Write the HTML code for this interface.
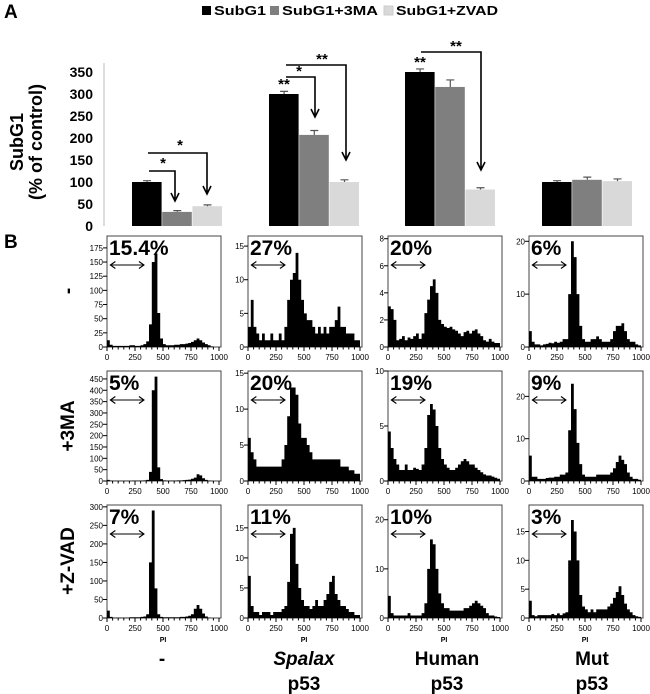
<!DOCTYPE html>
<html><head><meta charset="utf-8"><style>
html,body{margin:0;padding:0;background:#fff;}
svg{display:block;font-family:"Liberation Sans Narrow","Liberation Sans",sans-serif;}
</style></head><body>
<svg id="fig" width="650" height="694" viewBox="0 0 650 694" xmlns="http://www.w3.org/2000/svg">
<text x="4" y="18" font-size="19" font-weight="bold" font-family="Liberation Sans, sans-serif">A</text>
<text x="4" y="248" font-size="19" font-weight="bold" font-family="Liberation Sans, sans-serif">B</text>
<g id="legend"></g>
<g id="chartA"></g>
<g id="chartB"></g>
</svg>
<script>
// ---------- Panel A data ----------
const groups = ["ctrl", "spalax", "human", "mut"];
const seriesNames = ["SubG1", "SubG1+3MA", "SubG1+ZVAD"];
const subG1 = [100, 300, 350, 100];
const subG1_3MA = [32, 207, 316, 105];
const subG1_ZVAD = [45, 100, 83, 102];
const err_subG1 = [3, 6, 7, 3];
const err_3MA = [3, 10, 16, 6];
const err_ZVAD = [3, 5, 4, 5];
const yTicksA = [0, 50, 100, 150, 200, 250, 300, 350];

// ---------- Panel B data (counts per 25-unit PI bin, 0..1000) ----------
const pctLabels = [["15.4%","27%","20%","6%"],["5%","20%","19%","9%"],["7%","11%","10%","3%"]];
const yTopB = [[196,16.5,8.2,21],[485,15.3,10,26],[305,18.8,23,19.6]];
const yTicksB = [
 [[0,25,50,75,100,125,150,175],[0,5,10,15],[0,2,4,6,8],[0,10,20]],
 [[0,50,100,150,200,250,300,350,400,450],[0,5,10,15],[0,5,10],[0,10,20]],
 [[0,50,100,150,200,250,300],[0,5,10,15],[0,10,20],[0,5,10,15]]
];
const xTicksB = [0, 250, 500, 750, 1000];
const h_r1c1 = [12,4,2,2,2,2,2,2,3,3,2,2,3,5,10,40,150,165,60,15,5,3,3,3,4,4,5,5,6,7,9,12,15,12,8,5,3,1,0,0];
const h_r1c2 = [3,7,3,2,1,2,1,1,2,1,1,2,1,3,7,10,11,14,10,7,5,4,4,3,2,3,2,3,2,3,3,4,6,3,3,2,2,2,1,1];
const h_r1c3 = [3,2.8,2,0.5,0.6,0.8,0.5,0.7,0.6,0.8,1,0.6,1,2.5,3.5,4.5,5,4,2,1.7,1.5,1.4,1.5,1.3,1.2,1,0.8,1.1,1.2,1,1.2,1.3,1,0.8,0.5,0.4,0.6,0.4,0.3,0.3];
const h_r1c4 = [3,1,0.5,0.5,0.3,0.5,0.6,0.8,0.7,1,0.8,1,1.5,1.5,10,20,17,10,4,1.5,1,1,1.5,1.5,2,1.5,1,1,1,1.5,3,4,4,4.5,3,1.5,1,1,0.5,0.3];
const h_r2c1 = [5,2,1,1,1,1,1,1,1,2,2,2,2,3,5,40,400,460,60,8,3,2,2,2,2,3,3,4,5,6,10,15,30,25,12,5,2,1,0,0];
const h_r2c2 = [6,4,3,2,2,2,2,2,2,2,2,2,3,5,9,13,13,12,8,6,6,5,4,3,3,3,3,3,3,3,3,3,3,2,2,2,1.5,1.5,1,1];
const h_r2c3 = [4.5,3,2,1.5,1,1,1.5,1,1,1.2,1.1,1,1.5,3,6,7,6.5,5,3,2,1.5,1.2,1,1,1.2,1.5,1.8,2,1.8,1.5,1.5,1.2,1,0.8,0.6,0.5,0.5,0.4,0.3,0.2];
const h_r2c4 = [6,1,1,0.5,0.5,0.5,0.7,0.8,0.8,1,1,1.5,1.5,2,12,23,17,9,4,1.5,1,1,1,1,1.5,1.5,1.5,1.5,1.5,2,3,4.5,6,5,4,2,1,0.5,0.5,0.3];
const h_r3c1 = [20,3,1,1,1,1,1,1,2,2,2,2,3,4,10,150,290,80,10,3,2,2,2,2,2,2,3,3,4,6,10,25,35,25,12,4,1,0,0,0];
const h_r3c2 = [7,2,1,1,0.5,1,1,1,0.5,1,1,1,1.5,2,6,14,15,9,5,3,2,2,1.5,2,3,2,2,3,4,6,7,4,3,2,2,1.5,1,1,0.5,0.5];
const h_r3c3 = [4.5,1,0.5,0.5,0.5,0.5,0.5,1,0.5,0.5,0.5,0.5,1,3,10,16,15,10,5,3,2,2,1.5,1.5,1.5,1.5,1.5,2,2,2.5,3,3.5,3,2.5,2,1,0.5,0.5,0.3,0.2];
const h_r3c4 = [3,0.5,0.3,0.5,0.5,0.5,0.5,0.5,0.7,0.5,0.8,0.5,0.8,1,10,17,15,10,4,2,1.5,1,1.5,1,1.5,1.5,1.5,1.5,2,2.5,3.5,4.5,5.5,4,2.5,1.5,1,0.5,0.3,0.2];
const rowLabels = ["-", "+3MA", "+Z-VAD"];
const colLabels1 = ["-", "Spalax", "Human", "Mut"];
const colLabels2 = ["", "p53", "p53", "p53"];

const NS = "http://www.w3.org/2000/svg";
function mk(tag, attrs, parent, text){
  const e = document.createElementNS(NS, tag);
  for (const k in attrs) e.setAttribute(k, attrs[k]);
  if (text !== undefined) e.textContent = text;
  parent.appendChild(e);
  return e;
}
const colors = ["#000000", "#7f7f7f", "#d9d9d9"];

// ---------- Legend ----------
const legend = document.getElementById("legend");
const legX = [202, 270, 384];
const legW = [52, 96, 102];
seriesNames.forEach((n, i) => {
  const r = mk("rect", {x: legX[i], y: 6, width: 9, height: 9, fill: colors[i], stroke: i==2?"#ccc":"none"}, legend);
  
  
  const t = mk("text", {x: legX[i]+12, y: 15, "font-size": 13, "font-weight": "bold", textLength: legW[i], lengthAdjust: "spacingAndGlyphs"}, legend, n);
  
  
});

// ---------- Panel A ----------
const A = document.getElementById("chartA");
const y0A = 226, pxPerUnit = 0.44;
const yA = v => y0A - v * pxPerUnit;
const groupStart = [132, 269, 405, 542];
const barW = 30.2;
const xA = (g, s) => groupStart[g] + s * barW;
const ax = mk("line", {x1: 104, y1: y0A, x2: 104, y2: 63, stroke: "#bbb", "stroke-width": 1}, A);


yTicksA.forEach(v => {
  const t = mk("text", {x: 93, y: yA(v)+5, "font-size": 14, "font-weight": "bold", "text-anchor": "end", "font-family": "Liberation Sans, sans-serif"}, A, v);
  
  
});
const yt1 = mk("text", {transform: "translate(23,142) rotate(-90)", "font-size": 18, "font-weight": "bold", "text-anchor": "middle", "font-family": "Liberation Sans, sans-serif"}, A, "SubG1");


const yt2 = mk("text", {transform: "translate(42,142) rotate(-90)", "font-size": 18, "font-weight": "bold", "text-anchor": "middle", "font-family": "Liberation Sans, sans-serif"}, A, "(% of control)");


const allSeries = [subG1, subG1_3MA, subG1_ZVAD];
const allErr = [err_subG1, err_3MA, err_ZVAD];
groups.forEach((g, gi) => {
  allSeries.forEach((ser, si) => {
    const v = ser[gi], x = xA(gi, si);
    const b = mk("rect", {x: x, y: yA(v), width: barW-0.6, height: y0A - yA(v), fill: colors[si]}, A);
    
    
    const e = allErr[si][gi], cx = x + barW/2;
    const eb = mk("path", {d: `M${cx},${yA(v)} V${yA(v+e)} M${cx-4},${yA(v+e)} H${cx+4}`, stroke: "#555", "stroke-width": 1.2, fill: "none"}, A);
    
    
  });
});
// significance brackets
function bracket(x1, y, x2, yEnd, label, lx, ly){
  const p = mk("path", {d: `M${x1},${y} H${x2} V${yEnd} M${x2-4},${yEnd-8} L${x2},${yEnd} L${x2+4},${yEnd-8}`, stroke: "#000", "stroke-width": 1.6, fill: "none"}, A);
  
  
  const t = mk("text", {x: lx, y: ly, "font-size": 15, "font-weight": "bold", "text-anchor": "middle"}, A, label);
  
  
}
bracket(149, 171, 175, 201, "*", 163, 168);
bracket(148, 153, 207, 194, "*", 180, 150);
bracket(286, 77, 315, 117, "*", 299, 76);
bracket(286, 65, 346, 160, "**", 322, 64);
bracket(421, 52, 481, 170, "**", 456, 51);
[[284, 89], [420, 67]].forEach(p => {
  const t = mk("text", {x: p[0], y: p[1], "font-size": 15, "font-weight": "bold", "text-anchor": "middle"}, A, "**");
  
  
});

// ---------- Panel B ----------
const B = document.getElementById("chartB");
const hist = [[h_r1c1,h_r1c2,h_r1c3,h_r1c4],[h_r2c1,h_r2c2,h_r2c3,h_r2c4],[h_r3c1,h_r3c2,h_r3c3,h_r3c4]];
const colX0 = [107, 248, 388, 529];
const plotW = 112;
const rowTop = [236, 371, 505];
const rowZero = [347, 481, 618];
for (let r = 0; r < 3; r++) {
  for (let c = 0; c < 4; c++) {
    const g = mk("g", {}, B);
    
    
    const x0 = colX0[c], top = rowTop[r], zero = rowZero[r], yMax = yTopB[r][c];
    const xS = v => x0 + v / 1000 * plotW;
    const yS = v => zero - Math.min(v, yMax) / yMax * (zero - top);
    const box = mk("rect", {x: x0, y: top, width: plotW + 2, height: zero - top, fill: "#fff", stroke: "#444", "stroke-width": 1}, g);
    
    
    const data = hist[r][c];
    let d = `M${xS(0)},${zero}`;
    data.forEach((v, i) => { d += ` L${xS(i*25)},${yS(v)} L${xS(i*25+25)},${yS(v)}`; });
    d += ` L${xS(1000)},${zero} Z`;
    const area = mk("path", {d: d, fill: "#000"}, g);
    
    
    // y ticks
    yTicksB[r][c].forEach(v => {
      const tk = mk("line", {x1: x0-4, x2: x0, y1: yS(v), y2: yS(v), stroke: "#000"}, g);
      
      
      const tl = mk("text", {x: x0-4, y: yS(v)+3, "font-size": 8, "text-anchor": "end"}, g, v);
      
      
    });
    // x ticks
    for (let v = 0; v <= 1000; v += 50) {
      const big = v % 250 === 0;
      const tk = mk("line", {x1: xS(v), x2: xS(v), y1: zero, y2: zero + (big ? 4 : 2.5), stroke: "#000"}, g);
      
      
    }
    xTicksB.forEach(v => {
      const tl = mk("text", {x: xS(v), y: zero + 13, "font-size": 8, "text-anchor": "middle"}, g, v);
      
      
    });
    if (r === 2) {
      const pl = mk("text", {x: xS(500), y: zero + 24, "font-size": 7, "font-weight": "bold", "text-anchor": "middle"}, g, "PI");
      
      
    }
    const pt = mk("text", {x: x0 + 2, y: top + 19, "font-size": 21, "font-weight": "bold", "font-family": "Liberation Sans, sans-serif"}, g, pctLabels[r][c]);
    
    
    const ay = top + 29, ax1 = xS(30), ax2 = xS(330);
    const ar = mk("path", {d: `M${ax1},${ay} H${ax2} M${ax1+5},${ay-3.5} L${ax1},${ay} L${ax1+5},${ay+3.5} M${ax2-5},${ay-3.5} L${ax2},${ay} L${ax2-5},${ay+3.5}`, stroke: "#000", "stroke-width": 1.1, fill: "none"}, g);
    
    
  }
}
// row labels
const rowCY = [291, 426, 561];
rowLabels.forEach((l, i) => {
  const t = mk("text", {transform: `translate(74,${rowCY[i]}) rotate(-90)`, "font-size": 19, "font-weight": "bold", "text-anchor": "middle", "font-family": "Liberation Sans, sans-serif"}, B, l);
  
  
});
// column labels
const colCX = [162, 304, 447, 592];
colLabels1.forEach((l, i) => {
  const t = mk("text", {x: colCX[i], y: 665, "font-size": 19, "font-weight": "bold", "text-anchor": "middle", "font-style": i === 1 ? "italic" : "normal", "font-family": "Liberation Sans, sans-serif"}, B, l);
  
  
  if (colLabels2[i]) {
    const t2 = mk("text", {x: colCX[i], y: 690, "font-size": 19, "font-weight": "bold", "text-anchor": "middle", "font-family": "Liberation Sans, sans-serif"}, B, colLabels2[i]);
    
    
  }
});
</script>
</body></html>
